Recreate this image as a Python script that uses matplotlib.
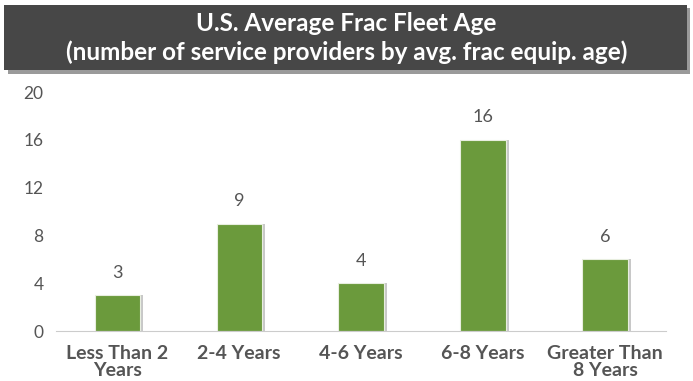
import matplotlib.pyplot as plt
from matplotlib.patches import Rectangle

categories = ["Less Than 2\nYears", "2-4 Years", "4-6 Years", "6-8 Years", "Greater Than\n8 Years"]
providers = [3, 9, 4, 16, 6]
yticks = [0, 4, 8, 12, 16, 20]

plt.rcParams['font.family'] = ['Lato', 'DejaVu Sans']

fig = plt.figure(figsize=(6.93, 3.81), dpi=100)
ax = fig.add_axes([0.081, 0.131, 0.88, 0.6275])

x = range(len(categories))
# soft shadow behind each bar
ax.bar([i + 0.025 for i in x], providers, width=0.37, color='#c8c8c8', zorder=1)
ax.bar(x, providers, width=0.37, color='#6b9a3c', edgecolor='#e8eedf', linewidth=0.8, zorder=2)

for i, v in zip(x, providers):
    ax.text(i, v + 1.2, str(v), ha='center', va='bottom', fontsize=13, color='#555555')

ax.set_xlim(-0.5, 4.5)
ax.set_ylim(0, 20)
ax.set_yticks(yticks)
ax.set_xticks(list(x))
ax.set_xticklabels(categories, fontsize=14, color='#555555', fontweight='bold', linespacing=1.0)
ax.tick_params(axis='y', length=0, labelsize=12.5, labelcolor='#555555', pad=9)
ax.tick_params(axis='x', length=0, pad=10)
for s in ['top', 'right', 'left']:
    ax.spines[s].set_visible(False)
ax.spines['bottom'].set_color('#cccccc')

# title banner
fig.patches.append(Rectangle((0.011, 0.806), 0.985, 0.172, transform=fig.transFigure,
                             facecolor='#9a9a9a', zorder=0))
fig.patches.append(Rectangle((0.006, 0.816), 0.985, 0.172, transform=fig.transFigure,
                             facecolor='#474747', zorder=1))
fig.text(0.5, 0.938, "U.S. Average Frac Fleet Age", ha='center', va='center',
         fontsize=17.5, color='white', fontweight='bold')
fig.text(0.5, 0.862, "(number of service providers by avg. frac equip. age)", ha='center',
         va='center', fontsize=17.5, color='white', fontweight='bold')

fig.savefig('out.png', dpi=100)
